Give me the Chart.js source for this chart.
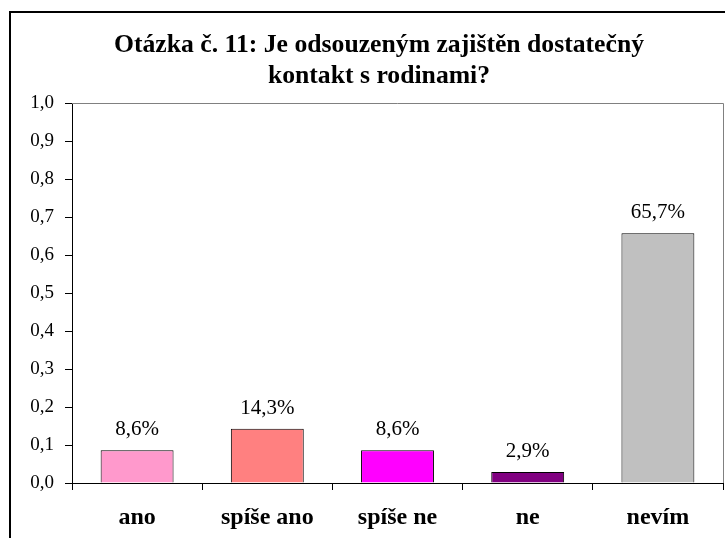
<!DOCTYPE html>
<html>
<head>
<meta charset="utf-8">
<script src="https://cdn.jsdelivr.net/npm/chart.js@4/dist/chart.umd.min.js"></script>
<style>
html,body{margin:0;padding:0;background:#fff;}
canvas{display:block;}
</style>
</head>
<body>
<canvas id="c" width="725" height="538"></canvas>
<script>
const categories = ["ano", "spíše ano", "spíše ne", "ne", "nevím"];
const values = [0.086, 0.143, 0.086, 0.029, 0.657];
const valueLabels = ["8,6%", "14,3%", "8,6%", "2,9%", "65,7%"];
const barColors = ["#FF99CC", "#FF8080", "#FF00FF", "#800080", "#C0C0C0"];
const titleLines = ["Otázka č. 11: Je odsouzeným zajištěn dostatečný", "kontakt s rodinami?"];
const yTicks = [0, 0.1, 0.2, 0.3, 0.4, 0.5, 0.6, 0.7, 0.8, 0.9, 1.0];

const decor = {
  id: 'decor',
  afterDraw(chart) {
    const ctx = chart.ctx;
    const a = chart.chartArea;
    ctx.save();
    ctx.strokeStyle = '#808080';
    ctx.lineWidth = 1;
    ctx.beginPath();
    ctx.moveTo(a.left, a.top + 0.5);
    ctx.lineTo(a.right + 0.5, a.top + 0.5);
    ctx.lineTo(a.right + 0.5, a.bottom);
    ctx.stroke();
    ctx.strokeStyle = '#000';
    ctx.lineWidth = 2;
    ctx.strokeRect(10, 12, 900, 700);
    // title
    ctx.fillStyle = '#000';
    ctx.font = 'bold 25.7px "Liberation Serif"';
    ctx.textAlign = 'center';
    ctx.textBaseline = 'middle';
    titleLines.forEach((t, i) => ctx.fillText(t, 379, 45 + i * 31));
    // value labels
    const meta = chart.getDatasetMeta(0);
    ctx.font = '21px "Liberation Serif"';
    ctx.textBaseline = 'alphabetic';
    meta.data.forEach((bar, i) => {
      ctx.fillText(valueLabels[i], bar.x, bar.y - 15);
    });
    ctx.restore();
  }
};

new Chart(document.getElementById('c'), {
  type: 'bar',
  data: {
    labels: categories,
    datasets: [{
      data: values,
      backgroundColor: barColors,
      borderColor: '#000',
      borderWidth: 1,
      categoryPercentage: 1,
      barPercentage: 0.56
    }]
  },
  options: {
    responsive: false,
    animation: false,
    layout: { padding: { left: 0, right: 2, top: 103, bottom: 0 } },
    plugins: {
      legend: { display: false },
      tooltip: { enabled: false },
      title: { display: false }
    },
    scales: {
      x: {
        grid: { display: true, drawOnChartArea: false, drawTicks: true, tickLength: 7, color: '#000', offset: true },
        border: { display: true, color: '#000', width: 1 },
        ticks: { color: '#000', padding: 13, font: { family: '"Liberation Serif"', size: 24, weight: 'bold' } },
        afterFit(s) { s.height = 55; }
      },
      y: {
        min: 0, max: 1,
        afterBuildTicks(s) { s.ticks = yTicks.map(v => ({ value: v })); },
        grid: { display: true, drawOnChartArea: false, drawTicks: true, tickLength: 7, color: '#000' },
        border: { display: true, color: '#000', width: 1 },
        ticks: {
          color: '#000', padding: 11,
          font: { family: '"Liberation Serif"', size: 19 },
          callback: v => v.toFixed(1).replace('.', ',')
        },
        afterFit(s) { s.width = 72; }
      }
    }
  },
  plugins: [decor]
});
</script>
</body>
</html>
